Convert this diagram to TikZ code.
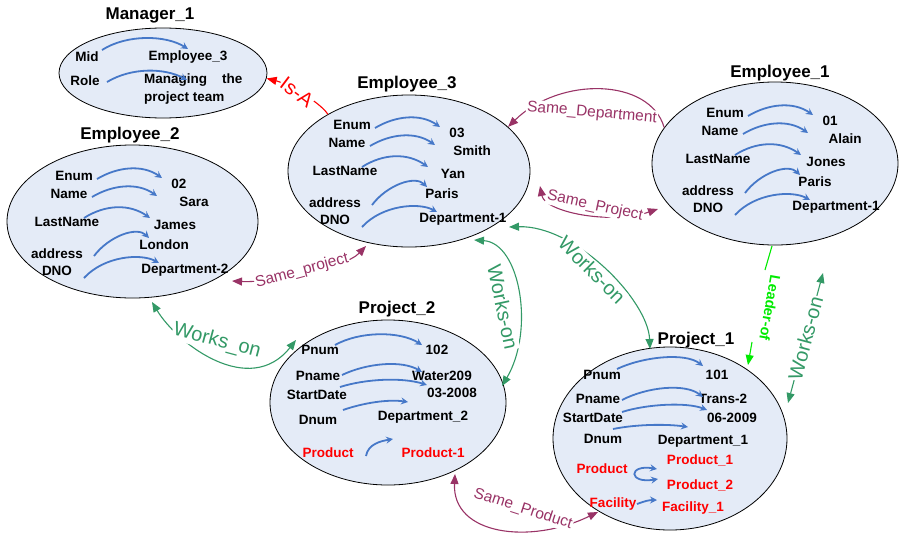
\documentclass[tikz,border=0pt]{standalone}
\usepackage{fontspec}
\setmainfont{Liberation Sans}
\usetikzlibrary{arrows.meta,shapes.geometric}
\definecolor{ellfill}{RGB}{228,235,247}
\definecolor{attrblue}{RGB}{70,120,200}
\definecolor{relpurple}{RGB}{153,51,102}
\definecolor{relgreen}{RGB}{51,153,102}
\definecolor{leadgreen}{RGB}{0,235,0}
\definecolor{isared}{RGB}{255,0,0}
\tikzset{
  ell/.style={ellipse, draw=black, fill=ellfill, line width=0.8pt, inner sep=0pt},
  txt/.style={font=\bfseries\fontsize{13.5}{18}\selectfont, inner sep=0pt},
  redtxt/.style={txt, text=isared},
  ttl/.style={font=\bfseries\fontsize{17}{20}\selectfont, inner sep=0pt},
  attr/.style={draw=attrblue, line width=1.8pt, -{Stealth[length=7pt,width=7pt,inset=2.5pt]}},
  attrtwo/.style={draw=attrblue, line width=1.8pt, {Stealth[length=7pt,width=7pt,inset=2.5pt]}-{Stealth[length=7pt,width=7pt,inset=2.5pt]}},
  tip/.tip={Triangle[length=10pt,width=8pt]},
  prel/.style={draw=relpurple, line width=1.1pt},
  grel/.style={draw=relgreen, line width=1.1pt},
  plbl/.style={font=\fontsize{15.5}{18}\selectfont, text=relpurple, fill=white, inner sep=1pt},
  glbl/.style={font=\fontsize{20}{22}\selectfont, text=relgreen, fill=white, inner sep=1pt},
}
\newcommand\empinner[7]{%
\begin{scope}[shift={#2}]
  \node[txt] (#1-enum) at (352,125) {Enum};
  \node[txt] (#1-name) at (347,143) {Name};
  \node[txt] (#1-last) at (345,171) {LastName};
  \node[txt] (#1-addr) at (335,203) {address};
  \node[txt] (#1-dno)  at (335,220) {DNO};
  \node[txt] (#1-v1) at (457,133) {#3};
  \node[txt] (#1-v2) at (472,151) {#4};
  \node[txt] (#1-v3) at (453,174) {#5};
  \node[txt] (#1-v4) at (442,194) {#6};
  \node[txt] (#1-v5) at (463,219) {#7};
  \coordinate (#1-s1) at (375,128); \coordinate (#1-t1) at (440,127);
  \coordinate (#1-s2) at (370,146); \coordinate (#1-t2) at (435,145);
  \coordinate (#1-s3) at (362,167); \coordinate (#1-t3) at (428,167);
  \coordinate (#1-s4) at (372,205); \coordinate (#1-t4) at (427,187);
  \coordinate (#1-s5) at (362,227); \coordinate (#1-t5) at (437,212);
  \draw[attr] (#1-s1) .. controls +(20,-12) and +(-20,-14) .. (#1-t1);
  \draw[attr] (#1-s2) .. controls +(20,-12) and +(-20,-14) .. (#1-t2);
  \draw[attr] (#1-s3) .. controls +(22,-14) and +(-20,-14) .. (#1-t3);
  \draw[attr] (#1-s4) .. controls +(15,-20) and +(-12,-12) .. (#1-t4);
  \draw[attr] (#1-s5) .. controls +(20,-22) and +(-18,-10) .. (#1-t5);
\end{scope}}
\begin{document}
\begin{tikzpicture}[x=1pt,y=-1pt]
\useasboundingbox (0,0) rectangle (900,536);
% ellipses
\node[ell, minimum width=208pt, minimum height=90pt] (mgr) at (163,73) {};
\node[ell, minimum width=242pt, minimum height=152pt] (e3) at (409,171) {};
\node[ell, minimum width=246pt, minimum height=163pt] (e1) at (775,163.5) {};
\node[ell, minimum width=251pt, minimum height=153pt] (e2) at (132.5,221.5) {};
\node[ell, minimum width=236pt, minimum height=165pt] (p2) at (388,402.5) {};
\node[ell, minimum width=234pt, minimum height=183pt] (p1) at (670,438.5) {};
% titles
\node[ttl] (t-mgr) at (150,15) {Manager\_1};
\node[ttl] (t-e3) at (407,84) {Employee\_3};
\node[ttl] (t-e1) at (780,73) {Employee\_1};
\node[ttl] (t-e2) at (130,135) {Employee\_2};
\node[ttl] (t-p2) at (397,309) {Project\_2};
\node[ttl] (t-p1) at (696,340) {Project\_1};
% manager content
\node[txt] (m-mid) at (87,57) {Mid};
\node[txt] (m-emp) at (188,57) {Employee\_3};
\node[txt] (m-role) at (85,81) {Role};
\node[txt, align=left, anchor=west] (m-val) at (144,89.5) {Managing\hspace{15pt}the\\project team};
\coordinate (m-s1) at (102,50); \coordinate (m-t1) at (188,49);
\coordinate (m-s2) at (107,82); \coordinate (m-t2) at (187,80);
\draw[attr] (m-s1) .. controls +(25,-16) and +(-22,-14) .. (m-t1);
\draw[attr] (m-s2) .. controls +(25,-15) and +(-22,-12) .. (m-t2);
% employees
\empinner{e3}{(0,0)}{03}{Smith}{Yan}{Paris}{Department-1}
\empinner{e2}{(-278,51)}{02}{Sara}{James}{London}{Department-2}
\empinner{e1}{(373,-12)}{01}{Alain}{Jones}{Paris}{Department-1}
% project 2
\node[txt] (p2-pnum) at (320,350) {Pnum};
\node[txt] (p2-v1) at (437,350) {102};
\node[txt] (p2-pname) at (318,376) {Pname};
\node[txt] (p2-v2) at (442,376) {Water209};
\node[txt] (p2-sd) at (317,395) {StartDate};
\node[txt] (p2-v3) at (452,393) {03-2008};
\node[txt] (p2-dnum) at (318,420) {Dnum};
\node[txt] (p2-v4) at (423,417) {Department\_2};
\node[redtxt] (p2-prod) at (328,453) {Product};
\node[redtxt] (p2-v5) at (433,453) {Product-1};
\coordinate (p2-s1) at (335,345); \coordinate (p2-t1) at (422,345);
\coordinate (p2-s2) at (342,375); \coordinate (p2-t2) at (422,372);
\coordinate (p2-s3) at (340,387); \coordinate (p2-t3) at (427,385);
\coordinate (p2-s4) at (343,410); \coordinate (p2-t4) at (408,402);
\coordinate (p2-s5) at (366,456); \coordinate (p2-t5) at (393,439);
\draw[attr] (p2-s1) .. controls +(25,-14) and +(-22,-14) .. (p2-t1);
\draw[attr] (p2-s2) .. controls +(25,-12) and +(-20,-12) .. (p2-t2);
\draw[attr] (p2-s3) .. controls +(25,-8) and +(-25,-8) .. (p2-t3);
\draw[attr] (p2-s4) .. controls +(20,-7) and +(-20,-3) .. (p2-t4);
\draw[attr] (p2-s5) .. controls +(2,-12) and +(-12,2) .. (p2-t5);
% project 1
\node[txt] (p1-pnum) at (602,375) {Pnum};
\node[txt] (p1-v1) at (717,375) {101};
\node[txt] (p1-pname) at (598,399) {Pname};
\node[txt] (p1-v2) at (723,399) {Trans-2};
\node[txt] (p1-sd) at (593,418) {StartDate};
\node[txt] (p1-v3) at (732,418) {06-2009};
\node[txt] (p1-dnum) at (603,439) {Dnum};
\node[txt] (p1-v4) at (703,441) {Department\_1};
\node[redtxt] (p1-prod) at (602,469) {Product};
\node[redtxt] (p1-v5) at (700,460) {Product\_1};
\node[redtxt] (p1-v6) at (700,485) {Product\_2};
\node[redtxt] (p1-fac) at (613,504) {Facility};
\node[redtxt] (p1-v7) at (693,508) {Facility\_1};
\coordinate (p1-s1) at (617,369); \coordinate (p1-t1) at (703,366);
\coordinate (p1-s2) at (622,400); \coordinate (p1-t2) at (703,397);
\coordinate (p1-s3) at (622,412); \coordinate (p1-t3) at (707,410);
\coordinate (p1-s4) at (613,429); \coordinate (p1-t4) at (688,427);
\coordinate (p1-la) at (657,469); \coordinate (p1-lb) at (658,479);
\coordinate (p1-s6) at (637,504); \coordinate (p1-t6) at (657,500);
\draw[attr] (p1-s1) .. controls +(25,-12) and +(-18,-14) .. (p1-t1);
\draw[attr] (p1-s2) .. controls +(25,-13) and +(-18,-14) .. (p1-t2);
\draw[attr] (p1-s3) .. controls +(25,-8) and +(-20,-8) .. (p1-t3);
\draw[attr] (p1-s4) .. controls +(25,-5) and +(-20,-3) .. (p1-t4);
\draw[attrtwo] (p1-la) .. controls (628,464) and (628,484) .. (p1-lb);
\draw[attr] (p1-s6) .. controls +(8,-3) and +(-8,0) .. (p1-t6);
% Is-A
\draw[draw=isared, line width=1.1pt, -tip] (e3.145) .. controls (318,100) and (285,83) .. (mgr.-3);
\node[font=\fontsize{20}{22}\selectfont, text=isared, fill=white, inner sep=1pt, rotate=-37] (l-isa) at (297,92) {Is-A};
% Same_Department
\draw[prel, -tip] (e1.162) .. controls (650,78) and (560,76) .. (e3.24);
\node[plbl, rotate=-5] (l-sd) at (592,113) {Same\_Department};
% Same_Project
\coordinate (spj-a) at (540,186); \coordinate (spj-b) at (658,209);
\draw[prel, tip-tip] (spj-a) .. controls (545,212) and (610,225) .. (spj-b);
\node[plbl, rotate=-12] (l-spj) at (595,206) {Same\_Project};
% Same_project
\coordinate (spl-a) at (232,281); \coordinate (spl-b) at (366,246);
\draw[prel, tip-tip] (spl-a) .. controls (270,283) and (345,268) .. (spl-b);
\node[plbl, rotate=15] (l-spl) at (302,271) {Same\_project};
% Works_on E2-P2
\coordinate (wo2-a) at (152,302); \coordinate (wo2-b) at (296,340);
\draw[grel, tip-tip] (wo2-a) .. controls (178,345) and (250,398) .. (wo2-b);
\node[glbl, rotate=-15] (l-wo2) at (217,341) {Works\_on};
% Works-on E3-P2
\coordinate (wo3-a) at (474,240); \coordinate (wo3-b) at (502,386);
\draw[grel, tip-tip] (wo3-a) .. controls (520,243) and (535,330) .. (wo3-b);
\node[glbl, rotate=-78] (l-wo3) at (503,307) {Works-on};
% Works-on E3-P1
\coordinate (wo4-a) at (509,227); \coordinate (wo4-b) at (650,349);
\draw[grel, tip-tip] (wo4-a) .. controls (575,225) and (648,300) .. (wo4-b);
\node[glbl, rotate=-45] (l-wo4) at (592,270) {Works-on};
% Leader-of
\coordinate (lo-a) at (772,246); \coordinate (lo-m1) at (765,270);
\coordinate (lo-m2) at (752,342); \coordinate (lo-b) at (748,365);
\draw[draw=leadgreen, line width=1.1pt] (lo-a) -- (lo-m1);
\draw[draw=leadgreen, line width=1.1pt, -tip] (lo-m2) -- (lo-b);
\node[font=\bfseries\fontsize{14.5}{16}\selectfont, text=leadgreen, inner sep=1pt, rotate=-100] (l-lo) at (770,308) {Leader-of};
% Works-on E1-P1
\coordinate (wo5-a) at (823,273); \coordinate (wo5-b) at (788,403);
\draw[grel, tip-tip] (wo5-a) -- (wo5-b);
\node[glbl, rotate=75] (l-wo5) at (805.5,338) {Works-on};
% Same_Product
\coordinate (spd-a) at (455,474); \coordinate (spd-b) at (598,512);
\draw[prel, tip-tip] (spd-a) .. controls (452,535) and (530,545) .. (spd-b);
\node[plbl, rotate=-18] (l-spd) at (523,509) {Same\_Product};
\end{tikzpicture}
\end{document}
